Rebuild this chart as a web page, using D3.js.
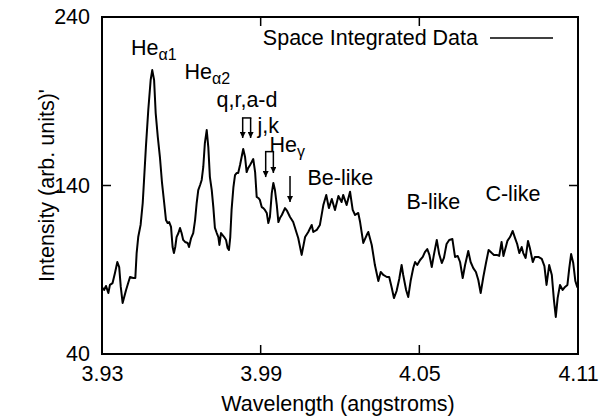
<!DOCTYPE html>
<html>
<head>
<meta charset="utf-8">
<script src="https://cdn.jsdelivr.net/npm/d3@7"></script>
<style>
  body { margin: 0; background: #fff; }
  svg text { font-family: "Liberation Sans", Arial, sans-serif; fill: #000; }
</style>
</head>
<body>
<div id="chart"></div>
<script>
// ────────────────────────────────────────────────────────────────
// data
// ────────────────────────────────────────────────────────────────
const wavelength = [
  3.9302, 3.9308, 3.9315, 3.9324, 3.9330, 3.9340, 3.9349, 3.9358, 3.9365, 3.9371,
  3.9378, 3.9383, 3.9391, 3.9399, 3.9406, 3.9418, 3.9426, 3.9431, 3.9437, 3.9446,
  3.9454, 3.9459, 3.9466, 3.9475, 3.9484, 3.9490, 3.9497, 3.9503, 3.9511, 3.9519,
  3.9527, 3.9534, 3.9542, 3.9548, 3.9554, 3.9561, 3.9567, 3.9572, 3.9577, 3.9582,
  3.9589, 3.9595, 3.9601, 3.9607, 3.9614, 3.9624, 3.9629, 3.9637, 3.9645, 3.9652,
  3.9658, 3.9664, 3.9671, 3.9677, 3.9683, 3.9689, 3.9696, 3.9702, 3.9708, 3.9715,
  3.9721, 3.9727, 3.9734, 3.9740, 3.9744, 3.9750, 3.9756, 3.9762, 3.9769, 3.9775,
  3.9780, 3.9785, 3.9790, 3.9797, 3.9803, 3.9809, 3.9815, 3.9822, 3.9828, 3.9834,
  3.9841, 3.9847, 3.9853, 3.9860, 3.9866, 3.9872, 3.9879, 3.9885, 3.9891, 3.9897,
  3.9904, 3.9910, 3.9916, 3.9923, 3.9929, 3.9935, 3.9942, 3.9948, 3.9954, 3.9961,
  3.9967, 3.9973, 3.9980, 3.9992, 4.0000, 4.0011, 4.0023, 4.0036, 4.0042, 4.0055,
  4.0068, 4.0080, 4.0093, 4.0099, 4.0112, 4.0124, 4.0137, 4.0148, 4.0158, 4.0169,
  4.0181, 4.0194, 4.0206, 4.0212, 4.0225, 4.0238, 4.0248, 4.0257, 4.0269, 4.0276,
  4.0288, 4.0301, 4.0307, 4.0320, 4.0332, 4.0345, 4.0354, 4.0364, 4.0377, 4.0386,
  4.0395, 4.0404, 4.0414, 4.0424, 4.0433, 4.0439, 4.0450, 4.0458, 4.0467, 4.0477,
  4.0484, 4.0492, 4.0503, 4.0513, 4.0521, 4.0530, 4.0538, 4.0547, 4.0555, 4.0566,
  4.0575, 4.0585, 4.0593, 4.0603, 4.0613, 4.0625, 4.0635, 4.0645, 4.0654, 4.0664,
  4.0673, 4.0685, 4.0694, 4.0704, 4.0714, 4.0723, 4.0732, 4.0742, 4.0752, 4.0762,
  4.0774, 4.0782, 4.0793, 4.0802, 4.0811, 4.0818, 4.0824, 4.0833, 4.0843, 4.0853,
  4.0862, 4.0870, 4.0878, 4.0887, 4.0893, 4.0902, 4.0911, 4.0918, 4.0929, 4.0937,
  4.0950, 4.0963, 4.0973, 4.0981, 4.0991, 4.1001, 4.1009, 4.1016, 4.1023, 4.1032,
  4.1042, 4.1051, 4.1060, 4.1067, 4.1074, 4.1082, 4.1090, 4.1097, 4.1100
];
const intensity = [
  79.2, 78.0, 80.4, 76.2, 81.0, 82.1, 88.1, 94.6, 91.6, 79.8,
  70.3, 73.2, 78.0, 82.1, 85.7, 85.1, 85.1, 99.9, 109.4, 116.6,
  129.6, 143.3, 162.8, 184.8, 202.6, 208.5, 202.6, 183.0, 168.8, 156.9,
  141.5, 131.4, 119.5, 117.7, 118.3, 115.4, 103.5, 99.9, 103.5, 109.4,
  111.8, 114.8, 111.8, 107.7, 106.5, 105.9, 103.5, 108.8, 111.8, 119.5,
  129.6, 137.3, 140.3, 143.3, 151.0, 165.2, 172.9, 162.8, 145.0, 137.3,
  127.2, 114.8, 111.8, 109.4, 104.7, 111.8, 110.6, 109.4, 107.7, 102.9,
  101.7, 109.4, 125.5, 139.1, 146.2, 147.4, 147.4, 152.2, 156.9, 161.7,
  156.9, 148.0, 150.4, 152.2, 153.9, 155.7, 148.0, 133.2, 132.6, 131.4,
  127.2, 126.6, 125.5, 123.7, 117.7, 121.3, 135.5, 141.5, 137.3, 128.4,
  118.3, 120.7, 122.5, 126.6, 124.9, 121.3, 118.3, 111.8, 108.8, 98.8,
  109.4, 112.4, 116.6, 112.4, 113.6, 116.6, 128.4, 134.4, 126.6, 132.0,
  125.5, 133.8, 130.2, 134.4, 128.4, 136.3, 125.5, 122.5, 123.7, 118.3,
  105.9, 110.6, 112.4, 104.7, 92.8, 83.3, 88.7, 86.9, 85.7, 85.7,
  79.8, 73.2, 77.4, 84.5, 92.8, 86.9, 78.0, 73.8, 83.3, 91.0,
  94.6, 92.8, 95.8, 97.6, 100.5, 102.3, 98.8, 91.6, 98.8, 107.7,
  99.3, 94.0, 97.0, 105.3, 107.7, 108.2, 97.6, 98.2, 94.6, 85.1,
  92.8, 101.1, 94.6, 91.0, 88.7, 83.9, 76.2, 85.7, 94.0, 101.7,
  99.9, 98.8, 98.8, 98.2, 106.5, 98.2, 101.7, 107.1, 109.4, 113.0,
  108.8, 105.3, 99.9, 103.5, 99.9, 97.0, 107.1, 102.9, 94.6, 97.6,
  97.6, 96.4, 92.2, 81.0, 92.8, 86.9, 72.0, 62.0, 73.2, 81.0,
  78.0, 79.8, 81.0, 91.0, 99.3, 94.0, 83.3, 79.8, 80.4
];

// axis ticks
const xTicks = [3.93, 3.99, 4.05, 4.11];
const yTicks = [40, 140, 240];

// peak labels: [wavelength, intensity, main text, subscript]
const labels = [
  [3.9410, 217.5, "He", "\u03b11"],
  [3.9612, 203.2, "He", "\u03b12"],
  [3.9733, 186.4, "q,r,a-d", ""],
  [3.9888, 171.2, "j,k", ""],
  [3.9933, 159.9, "He", "\u03b3"],
  [4.0077, 140.3, "Be-like", ""],
  [4.0451, 126.1, "B-like", ""],
  [4.0750, 130.8, "C-like", ""]
];

// bracket arrows: [x left, x right, top, left tip, right tip]
const brackets = [
  [3.9832, 3.9862, 180.1, 168.2, 168.2],
  [3.9919, 3.9948, 160.1, 145.0, 147.4]
];
// single arrow: [x, top, tip]
const arrows = [
  [4.0011, 145.6, 130.2]
];

const seriesName = "Space Integrated Data";

// ────────────────────────────────────────────────────────────────
// layout
// ────────────────────────────────────────────────────────────────
const W = 611, H = 418;
const margin = { top: 17, right: 33, bottom: 64, left: 102 };
const width  = W - margin.left - margin.right;
const height = H - margin.top  - margin.bottom;

const svg = d3.select("#chart")
  .append("svg")
    .attr("width", W)
    .attr("height", H);

const g = svg.append("g")
  .attr("transform", `translate(${margin.left},${margin.top})`);

const x = d3.scaleLinear().domain([3.93, 4.11]).range([0, width]);
const y = d3.scaleLinear().domain([40, 240]).range([height, 0]);

const fontSize = 21.5;
const tickLen = 9;

// ────────────────────────────────────────────────────────────────
// axes (inward ticks, mirrored on top/right)
// ────────────────────────────────────────────────────────────────
const inner = v => v !== x.domain()[0] && v !== x.domain()[1];
const innerY = v => v !== y.domain()[0] && v !== y.domain()[1];

g.append("g")
  .attr("transform", `translate(0,${height})`)
  .call(d3.axisBottom(x).tickValues(xTicks).tickSize(0).tickPadding(12)
    .tickFormat(d3.format(".2f")))
  .call(a => a.select(".domain").remove())
  .selectAll("text")
    .style("font-size", fontSize + "px")
    .attr("font-family", null);

g.append("g")
  .call(d3.axisLeft(y).tickValues(yTicks).tickSize(0).tickPadding(12))
  .call(a => a.select(".domain").remove())
  .selectAll("text")
    .style("font-size", fontSize + "px")
    .attr("font-family", null);

// tick marks
xTicks.filter(inner).forEach(t => {
  g.append("line").attr("x1", x(t)).attr("x2", x(t))
    .attr("y1", height).attr("y2", height - tickLen)
    .attr("stroke", "#000").attr("stroke-width", 1.5);
  g.append("line").attr("x1", x(t)).attr("x2", x(t))
    .attr("y1", 0).attr("y2", tickLen)
    .attr("stroke", "#000").attr("stroke-width", 1.5);
});
yTicks.filter(innerY).forEach(t => {
  g.append("line").attr("x1", 0).attr("x2", tickLen)
    .attr("y1", y(t)).attr("y2", y(t))
    .attr("stroke", "#000").attr("stroke-width", 1.5);
  g.append("line").attr("x1", width).attr("x2", width - tickLen)
    .attr("y1", y(t)).attr("y2", y(t))
    .attr("stroke", "#000").attr("stroke-width", 1.5);
});

// frame
g.append("rect")
  .attr("width", width).attr("height", height)
  .attr("fill", "none")
  .attr("stroke", "#000")
  .attr("stroke-width", 2);

// axis titles
g.append("text")
  .attr("x", width / 2 - 2)
  .attr("y", height + 57)
  .attr("text-anchor", "middle")
  .style("font-size", fontSize + "px")
  .text("Wavelength (angstroms)");

g.append("text")
  .attr("transform", "rotate(-90)")
  .attr("x", -height / 2)
  .attr("y", -48)
  .attr("text-anchor", "middle")
  .style("font-size", fontSize + "px")
  .text("Intensity (arb. units)'");

// ────────────────────────────────────────────────────────────────
// spectrum line
// ────────────────────────────────────────────────────────────────
const points = d3.zip(wavelength, intensity);
const line = d3.line()
  .x(d => x(d[0]))
  .y(d => y(d[1]));

g.append("path")
  .datum(points)
  .attr("fill", "none")
  .attr("stroke", "#000")
  .attr("stroke-width", 2)
  .attr("stroke-linejoin", "round")
  .attr("d", line);

// legend
g.append("text")
  .attr("x", 376)
  .attr("y", 28)
  .attr("text-anchor", "end")
  .style("font-size", fontSize + "px")
  .text(seriesName);
g.append("line")
  .attr("x1", 388).attr("x2", 451)
  .attr("y1", 21).attr("y2", 21)
  .attr("stroke", "#000").attr("stroke-width", 1.5);

// ────────────────────────────────────────────────────────────────
// annotations
// ────────────────────────────────────────────────────────────────
labels.forEach(([lx, ly, main, sub]) => {
  const t = g.append("text")
    .attr("x", x(lx))
    .attr("y", y(ly))
    .style("font-size", fontSize + "px")
    .text(main);
  if (sub) {
    t.append("tspan")
      .attr("dy", 5)
      .style("font-size", "16px")
      .text(sub);
  }
});

svg.append("defs").append("marker")
  .attr("id", "head")
  .attr("viewBox", "0 0 10 10")
  .attr("refX", 10).attr("refY", 5)
  .attr("markerWidth", 9).attr("markerHeight", 6)
  .attr("markerUnits", "userSpaceOnUse")
  .attr("orient", "auto")
  .append("path")
    .attr("d", "M0,0 L10,5 L0,10 z")
    .attr("fill", "#000");

brackets.forEach(([x1, x2, top, t1, t2]) => {
  g.append("path")
    .attr("d", `M${x(x1)},${y(top)} L${x(x2)},${y(top)}`)
    .attr("fill", "none")
    .attr("stroke", "#000")
    .attr("stroke-width", 1.5)
    .attr("stroke-linecap", "square");
  [[x1, t1], [x2, t2]].forEach(([ax, tip]) => {
    g.append("line")
      .attr("x1", x(ax)).attr("x2", x(ax))
      .attr("y1", y(top)).attr("y2", y(tip))
      .attr("stroke", "#000").attr("stroke-width", 1.5)
      .attr("marker-end", "url(#head)");
  });
});

arrows.forEach(([ax, top, tip]) => {
  g.append("line")
    .attr("x1", x(ax)).attr("x2", x(ax))
    .attr("y1", y(top)).attr("y2", y(tip))
    .attr("stroke", "#000").attr("stroke-width", 1.5)
    .attr("marker-end", "url(#head)");
});
</script>
</body>
</html>
